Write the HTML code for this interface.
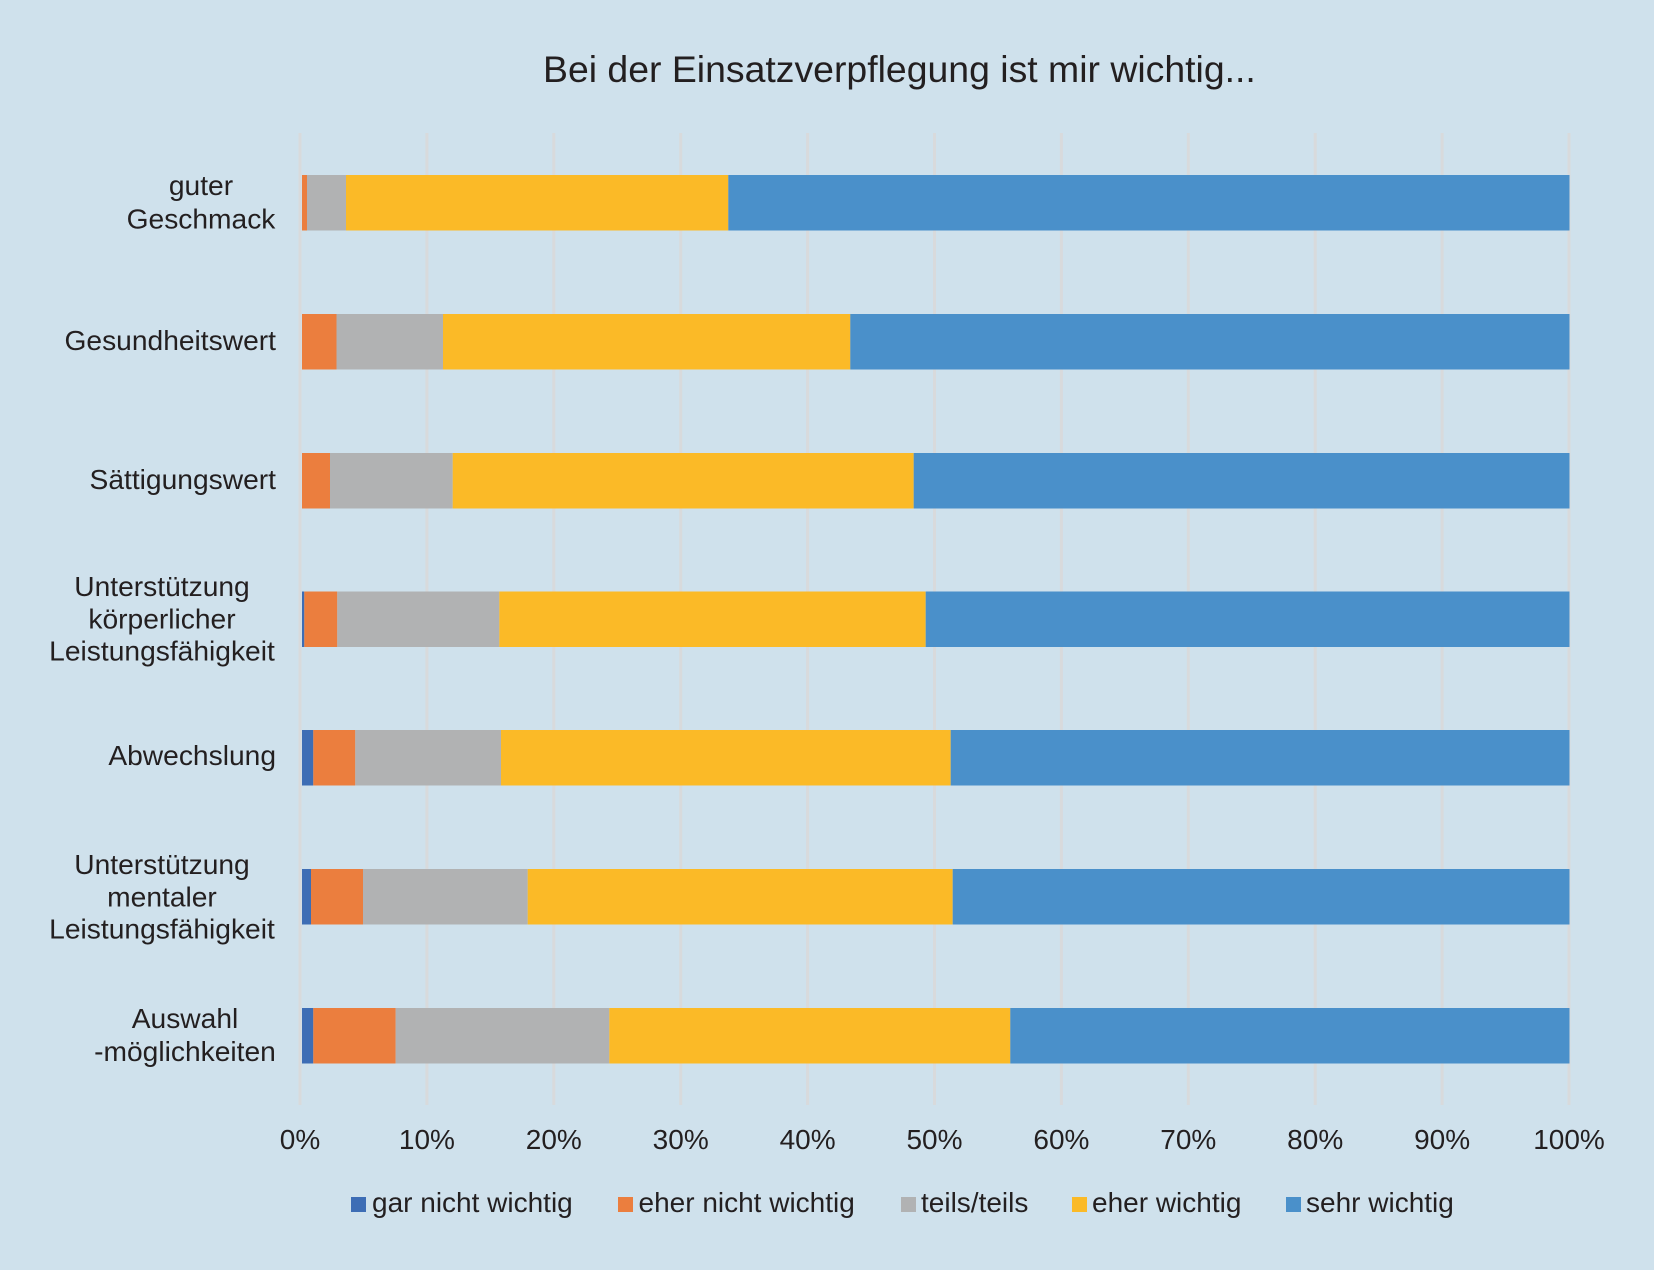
<!DOCTYPE html>
<html>
<head>
<meta charset="utf-8">
<style>
  html, body { margin: 0; padding: 0; background: #CFE1EC; }
  svg { display: block; }
  text { font-family: "Liberation Sans", Arial, sans-serif; fill: #231F20; }
</style>
</head>
<body>
<svg width="1654" height="1270" viewBox="0 0 1654 1270" xmlns="http://www.w3.org/2000/svg">
  <rect x="0" y="0" width="1654" height="1270" fill="#CFE1EC"/>

  <!-- Title -->
  <text x="543" y="82" font-size="37.4">Bei der Einsatzverpflegung ist mir wichtig...</text>

  <!-- Gridlines -->
  <g stroke="#D8DADC" stroke-width="3">
    <line x1="300" y1="133" x2="300" y2="1105"/>
    <line x1="426.9" y1="133" x2="426.9" y2="1105"/>
    <line x1="553.8" y1="133" x2="553.8" y2="1105"/>
    <line x1="680.7" y1="133" x2="680.7" y2="1105"/>
    <line x1="807.6" y1="133" x2="807.6" y2="1105"/>
    <line x1="934.5" y1="133" x2="934.5" y2="1105"/>
    <line x1="1061.4" y1="133" x2="1061.4" y2="1105"/>
    <line x1="1188.3" y1="133" x2="1188.3" y2="1105"/>
    <line x1="1315.2" y1="133" x2="1315.2" y2="1105"/>
    <line x1="1442.1" y1="133" x2="1442.1" y2="1105"/>
    <line x1="1569" y1="133" x2="1569" y2="1105"/>
  </g>

  <!-- Bars -->
  <g>
    <!-- 1 guter Geschmack -->
    <rect x="302" y="175" width="5" height="55.5" fill="#EB7E3E"/>
    <rect x="307" y="175" width="39" height="55.5" fill="#B1B2B3"/>
    <rect x="346" y="175" width="382.3" height="55.5" fill="#FBBA27"/>
    <rect x="728.3" y="175" width="841.2" height="55.5" fill="#4A90CA"/>

    <!-- 2 Gesundheitswert -->
    <rect x="302" y="314" width="34.5" height="55.5" fill="#EB7E3E"/>
    <rect x="336.5" y="314" width="106.5" height="55.5" fill="#B1B2B3"/>
    <rect x="443" y="314" width="407.3" height="55.5" fill="#FBBA27"/>
    <rect x="850.3" y="314" width="719.2" height="55.5" fill="#4A90CA"/>

    <!-- 3 Sättigungswert -->
    <rect x="302" y="453" width="28" height="55.5" fill="#EB7E3E"/>
    <rect x="330" y="453" width="122.7" height="55.5" fill="#B1B2B3"/>
    <rect x="452.7" y="453" width="461" height="55.5" fill="#FBBA27"/>
    <rect x="913.7" y="453" width="655.8" height="55.5" fill="#4A90CA"/>

    <!-- 4 Unterstützung körperlicher Leistungsfähigkeit -->
    <rect x="302" y="591.5" width="2.3" height="55.5" fill="#3D6DB5"/>
    <rect x="304.3" y="591.5" width="33" height="55.5" fill="#EB7E3E"/>
    <rect x="337.3" y="591.5" width="162" height="55.5" fill="#B1B2B3"/>
    <rect x="499.3" y="591.5" width="426.4" height="55.5" fill="#FBBA27"/>
    <rect x="925.7" y="591.5" width="643.8" height="55.5" fill="#4A90CA"/>

    <!-- 5 Abwechslung -->
    <rect x="302" y="730" width="11.3" height="55.5" fill="#3D6DB5"/>
    <rect x="313.3" y="730" width="42" height="55.5" fill="#EB7E3E"/>
    <rect x="355.3" y="730" width="145.7" height="55.5" fill="#B1B2B3"/>
    <rect x="501" y="730" width="449.7" height="55.5" fill="#FBBA27"/>
    <rect x="950.7" y="730" width="618.8" height="55.5" fill="#4A90CA"/>

    <!-- 6 Unterstützung mentaler Leistungsfähigkeit -->
    <rect x="302" y="869" width="9" height="55.5" fill="#3D6DB5"/>
    <rect x="311" y="869" width="52" height="55.5" fill="#EB7E3E"/>
    <rect x="363" y="869" width="164.7" height="55.5" fill="#B1B2B3"/>
    <rect x="527.7" y="869" width="425" height="55.5" fill="#FBBA27"/>
    <rect x="952.7" y="869" width="616.8" height="55.5" fill="#4A90CA"/>

    <!-- 7 Auswahlmöglichkeiten -->
    <rect x="302" y="1008" width="11.3" height="55.5" fill="#3D6DB5"/>
    <rect x="313.3" y="1008" width="82.4" height="55.5" fill="#EB7E3E"/>
    <rect x="395.7" y="1008" width="213.6" height="55.5" fill="#B1B2B3"/>
    <rect x="609.3" y="1008" width="401" height="55.5" fill="#FBBA27"/>
    <rect x="1010.3" y="1008" width="559.2" height="55.5" fill="#4A90CA"/>
  </g>

  <!-- Category labels -->
  <g font-size="28.2">
    <text x="201" y="195" text-anchor="middle">guter</text>
    <text x="201" y="228.3" text-anchor="middle">Geschmack</text>

    <text x="276" y="350" text-anchor="end">Gesundheitswert</text>

    <text x="276" y="489" text-anchor="end">Sättigungswert</text>

    <text x="162" y="596" text-anchor="middle">Unterstützung</text>
    <text x="162" y="628.3" text-anchor="middle">körperlicher</text>
    <text x="162" y="660.7" text-anchor="middle">Leistungsfähigkeit</text>

    <text x="276" y="765" text-anchor="end">Abwechslung</text>

    <text x="162" y="874" text-anchor="middle">Unterstützung</text>
    <text x="162" y="906.3" text-anchor="middle">mentaler</text>
    <text x="162" y="938.7" text-anchor="middle">Leistungsfähigkeit</text>

    <text x="185" y="1028" text-anchor="middle">Auswahl</text>
    <text x="185" y="1061" text-anchor="middle">-möglichkeiten</text>
  </g>

  <!-- X tick labels -->
  <g font-size="28" text-anchor="middle">
    <text x="300" y="1149">0%</text>
    <text x="426.9" y="1149">10%</text>
    <text x="553.8" y="1149">20%</text>
    <text x="680.7" y="1149">30%</text>
    <text x="807.6" y="1149">40%</text>
    <text x="934.5" y="1149">50%</text>
    <text x="1061.4" y="1149">60%</text>
    <text x="1188.3" y="1149">70%</text>
    <text x="1315.2" y="1149">80%</text>
    <text x="1442.1" y="1149">90%</text>
    <text x="1569" y="1149">100%</text>
  </g>

  <!-- Legend -->
  <g font-size="28">
    <rect x="351" y="1197" width="15" height="15" fill="#3D6DB5"/>
    <text x="372" y="1212">gar nicht wichtig</text>

    <rect x="618" y="1197" width="15" height="15" fill="#EB7E3E"/>
    <text x="638.5" y="1212">eher nicht wichtig</text>

    <rect x="901" y="1197" width="15" height="15" fill="#B1B2B3"/>
    <text x="921" y="1212">teils/teils</text>

    <rect x="1072" y="1197" width="15" height="15" fill="#FBBA27"/>
    <text x="1092" y="1212">eher wichtig</text>

    <rect x="1286" y="1197" width="15" height="15" fill="#4A90CA"/>
    <text x="1306" y="1212">sehr wichtig</text>
  </g>
</svg>
</body>
</html>
